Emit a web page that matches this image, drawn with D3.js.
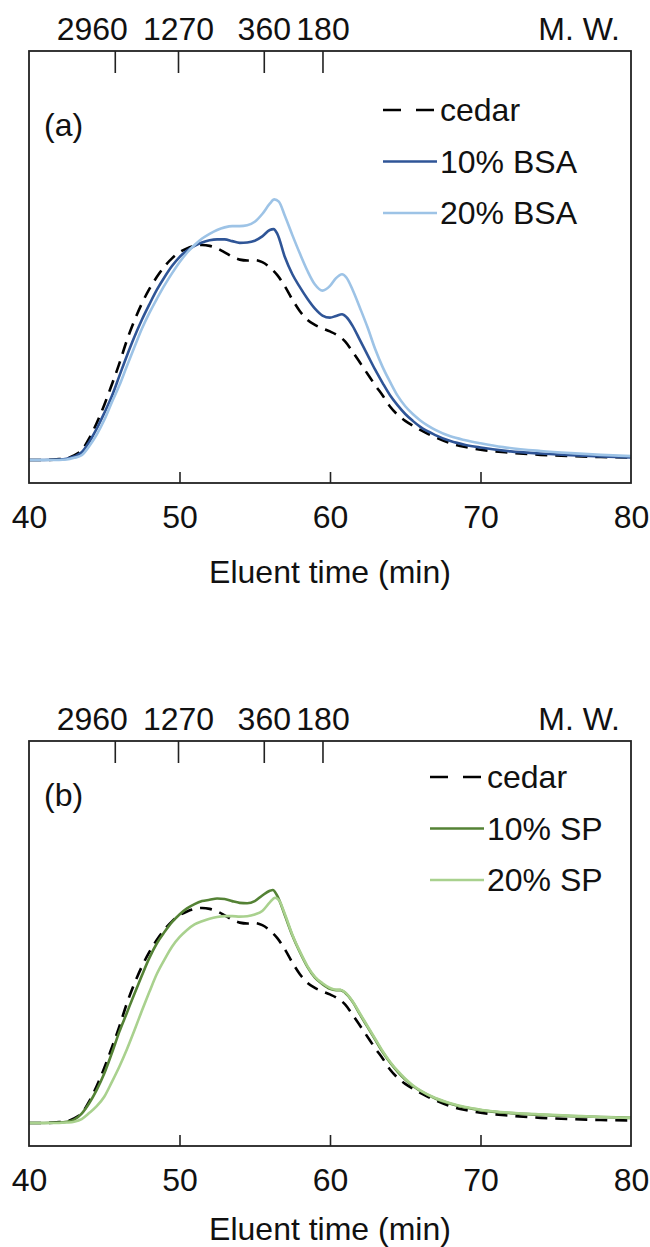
<!DOCTYPE html>
<html lang="en">
<head>
<meta charset="UTF-8">
<title>Eluent time chromatograms</title>
<script src="https://cdn.jsdelivr.net/npm/d3@7"></script>
<style>
  body { margin: 0; background: #fff; }
  svg text { font-family: "Liberation Sans", Arial, sans-serif; fill: #111; }
</style>
</head>
<body>
<svg id="chart" width="650" height="1247"></svg>
<script>
// x axis (eluent time, min) and molecular weight markers
const xTicks = [40, 50, 60, 70, 80];
const mwTimes = [45.7, 49.9, 55.6, 59.5];
const mwLabels = ["2960", "1270", "360", "180"];

// [time (min), relative signal]
const cedar = [[40,0],[41,0],[42,0.2],[42.5,0.4],[43,1.1],[43.5,2.3],[44,5.0],[44.5,8.6],[45,12.8],[45.5,17.5],[46,22.4],[46.5,27.8],[47,32.4],[47.5,36.4],[48,39.8],[48.5,42.6],[49,45.0],[49.5,46.9],[50,48.3],[50.5,49.2],[51,49.8],[51.5,50.0],[52,49.8],[52.5,49.2],[53,48.3],[53.5,47.3],[54,46.6],[54.5,46.4],[55,46.5],[55.5,46.0],[56,44.8],[56.5,43.0],[57,40.4],[57.5,37.3],[58,34.6],[58.5,32.6],[59,31.4],[59.5,30.6],[60,29.9],[60.5,29.0],[61,27.6],[61.5,25.2],[62,22.6],[62.5,20.0],[63,17.4],[63.5,15.0],[64,12.4],[64.5,10.5],[65,9.1],[65.5,8.0],[66,7.0],[66.5,6.1],[67,5.3],[68,3.9],[69,3.0],[70,2.4],[72,1.7],[74,1.2],[76,0.9],[78,0.7],[80,0.6]];

const bsa10 = [[40,0],[41,0],[42,0.1],[42.5,0.3],[43,0.8],[43.5,1.8],[44,4.2],[44.5,7.3],[45,10.9],[45.5,14.8],[46,19.5],[46.5,24.2],[47,28.6],[47.5,32.6],[48,36.2],[48.5,39.6],[49,42.5],[49.5,45.1],[50,47.2],[50.5,48.7],[51,49.8],[51.5,50.6],[52,51.1],[52.5,51.3],[53,51.3],[53.5,50.9],[54,50.5],[54.5,50.6],[55,51.0],[55.5,52.0],[56,53.5],[56.25,53.7],[56.5,52.6],[57,47.2],[57.5,43.2],[58,40.2],[58.5,37.5],[59,35.2],[59.5,33.6],[60,33.1],[60.4,33.5],[60.8,33.9],[61.1,33.2],[61.5,31.2],[62,27.8],[62.5,24.4],[63,21.0],[63.5,17.9],[64,15.0],[64.5,12.7],[65,10.7],[65.5,9.1],[66,7.7],[67,5.8],[68,4.4],[69,3.5],[70,2.9],[72,2.0],[74,1.5],[76,1.1],[78,0.8],[80,0.6]];

const bsa20 = [[40,0],[41,0],[42,0],[42.5,0.1],[43,0.5],[43.5,1.1],[44,3.2],[44.5,5.9],[45,9.3],[45.5,13.4],[46,17.3],[46.5,21.8],[47,26.2],[47.5,30.5],[48,34.2],[48.5,37.5],[49,40.6],[49.5,43.4],[50,46.0],[50.5,48.2],[51,50.0],[51.5,51.5],[52,52.6],[52.5,53.5],[53,54.1],[53.5,54.4],[54,54.4],[54.5,54.6],[55,55.4],[55.5,57.2],[56,59.6],[56.3,60.6],[56.6,60.1],[57,56.8],[57.5,52.3],[58,48.0],[58.5,44.0],[59,40.8],[59.5,39.4],[60,40.5],[60.4,42.3],[60.8,43.2],[61.1,42.4],[61.5,39.6],[62,35.3],[62.5,30.8],[63,25.8],[63.5,21.6],[64,18.1],[64.5,14.9],[65,12.5],[65.5,10.7],[66,9.2],[66.5,8.0],[67,7.0],[68,5.5],[69,4.6],[70,3.9],[71.5,3.0],[74,2.1],[76,1.6],[78,1.2],[80,0.9]];

const sp10 = [[40,0],[41,0],[42,0.1],[42.5,0.3],[43,0.8],[43.5,2.2],[44,4.6],[44.5,7.7],[45,11.5],[45.5,16.2],[46,21.2],[46.5,25.6],[47,30.0],[47.5,34.3],[48,38.4],[48.5,41.8],[49,44.4],[49.5,46.7],[50,48.5],[50.5,49.9],[51,50.9],[51.5,51.6],[52,51.9],[52.5,52.2],[53,52.1],[53.5,51.6],[54,51.2],[54.5,51.1],[55,51.6],[55.5,52.9],[56,54.0],[56.2,54.2],[56.5,52.8],[57,48.3],[57.5,43.6],[58,39.7],[58.5,36.3],[59,33.8],[59.5,32.3],[60,31.2],[60.4,30.9],[60.7,30.9],[61,30.3],[61.5,28.2],[62,25.2],[62.5,22.3],[63,19.4],[63.5,16.5],[64,14.0],[64.5,11.9],[65,10.1],[65.5,8.6],[66,7.5],[67,5.7],[68,4.5],[69,3.6],[70,3.0],[72,2.3],[74,1.9],[76,1.6],[78,1.4],[80,1.2]];

const sp20 = [[40,0],[41,0],[42,0],[42.5,0.1],[43,0.3],[43.5,0.9],[44,2.3],[44.5,3.9],[45,6.1],[45.5,9.5],[46,13.1],[46.5,17.1],[47,21.5],[47.5,26.1],[48,30.5],[48.5,34.7],[49,38.0],[49.5,41.0],[50,43.2],[50.5,44.9],[51,46.2],[51.5,46.9],[52,47.5],[52.5,47.9],[53,48.1],[53.5,48.1],[54,48.0],[54.5,48.1],[55,48.5],[55.5,49.3],[56,51.3],[56.35,52.4],[56.65,51.6],[57,48.6],[57.5,43.8],[58,39.9],[58.5,36.5],[59,34.0],[59.5,32.5],[60,31.4],[60.4,31.0],[60.7,31.0],[61,30.4],[61.5,28.3],[62,25.4],[62.5,22.5],[63,19.6],[63.5,16.7],[64,14.2],[64.5,12.1],[65,10.3],[65.5,8.8],[66,7.6],[67,5.8],[68,4.6],[69,3.7],[70,3.1],[72,2.4],[74,2.0],[76,1.7],[78,1.4],[80,1.2]];

const panelA = {
    tag: "(a)", top: 51, bottom: 483,
    tagY: 136, titleY: 583,
    legendX: 383, legendY: 110,
    series: [
        { name: "cedar", data: cedar, color: "#000000", dash: "12,8" },
        { name: "10% BSA", data: bsa10, color: "#2F5597" },
        { name: "20% BSA", data: bsa20, color: "#9DC3E6" }
    ]
};
const panelB = {
    tag: "(b)", top: 741, bottom: 1146,
    tagY: 806, titleY: 1240,
    legendX: 430, legendY: 777,
    series: [
        { name: "cedar", data: cedar, color: "#000000", dash: "12,8" },
        { name: "10% SP", data: sp10, color: "#548235" },
        { name: "20% SP", data: sp20, color: "#A9D18E" }
    ]
};

const svg = d3.select("#chart");
const left = 29, right = 631;
const pxPerUnit = 4.3;   // same vertical scale for both panels
const baseGap = 23;      // baseline sits a little above the frame bottom
const fontSize = 32;

function drawPanel(p) {
    const g = svg.append("g");
    const x = d3.scaleLinear().domain([40, 80]).range([left, right]);
    const h = p.bottom - p.top;
    const y = d3.scaleLinear()
        .domain([-baseGap / pxPerUnit, (h - baseGap) / pxPerUnit])
        .range([p.bottom, p.top]);

    // curves
    const line = d3.line()
        .x(d => x(d[0]))
        .y(d => y(d[1]))
        .curve(d3.curveMonotoneX);

    p.series.forEach(s => {
        g.append("path")
            .datum(s.data)
            .attr("fill", "none")
            .attr("stroke", s.color)
            .attr("stroke-width", 2.6)
            .attr("stroke-dasharray", s.dash || null)
            .attr("d", line);
    });

    // frame
    g.append("rect")
        .attr("x", left).attr("y", p.top)
        .attr("width", right - left).attr("height", h)
        .attr("fill", "none").attr("stroke", "#222").attr("stroke-width", 1.8);

    // bottom axis: inward ticks
    const xAxis = d3.axisBottom(x).tickValues(xTicks).tickSize(-11).tickPadding(22);
    const ax = g.append("g").attr("transform", `translate(0,${p.bottom})`).call(xAxis);
    ax.select(".domain").remove();
    ax.selectAll(".tick line").attr("stroke", "#222").attr("stroke-width", 1.6)
        .filter(d => d === 40 || d === 80).remove();
    ax.selectAll(".tick text")
        .attr("font-size", fontSize)
        .attr("font-family", "Liberation Sans, Arial, sans-serif")
        .attr("fill", "#111");

    // top axis: molecular weight markers
    const mwAxis = d3.axisTop(x).tickValues(mwTimes).tickSize(-22).tickFormat((d, i) => mwLabels[i]).tickPadding(11);
    const mw = g.append("g").attr("transform", `translate(0,${p.top})`).call(mwAxis);
    mw.select(".domain").remove();
    mw.selectAll(".tick line").attr("stroke", "#222").attr("stroke-width", 1.6);
    mw.selectAll(".tick text")
        .attr("font-size", fontSize)
        .attr("font-family", "Liberation Sans, Arial, sans-serif")
        .attr("fill", "#111")
        .attr("dx", (d, i) => i === 0 ? -23 : 0);

    g.append("text")
        .attr("x", 620).attr("y", p.top - 11)
        .attr("text-anchor", "end")
        .attr("font-size", fontSize)
        .text("M. W.");

    // x-axis title
    g.append("text")
        .attr("x", (left + right) / 2).attr("y", p.titleY)
        .attr("text-anchor", "middle")
        .attr("font-size", fontSize)
        .text("Eluent time (min)");

    // panel tag
    g.append("text")
        .attr("x", 44).attr("y", p.tagY)
        .attr("font-size", fontSize)
        .text(p.tag);

    // legend
    const lg = g.append("g");
    p.series.forEach((s, i) => {
        const ly = p.legendY + i * 51.5;
        lg.append("line")
            .attr("x1", p.legendX).attr("x2", p.legendX + 54)
            .attr("y1", ly).attr("y2", ly)
            .attr("stroke", s.color).attr("stroke-width", 2.6)
            .attr("stroke-dasharray", s.dash ? "18,15" : null);
        lg.append("text")
            .attr("x", p.legendX + 57).attr("y", ly + 11)
            .attr("font-size", fontSize)
            .text(s.name);
    });
}

drawPanel(panelA);
drawPanel(panelB);
</script>
</body>
</html>
